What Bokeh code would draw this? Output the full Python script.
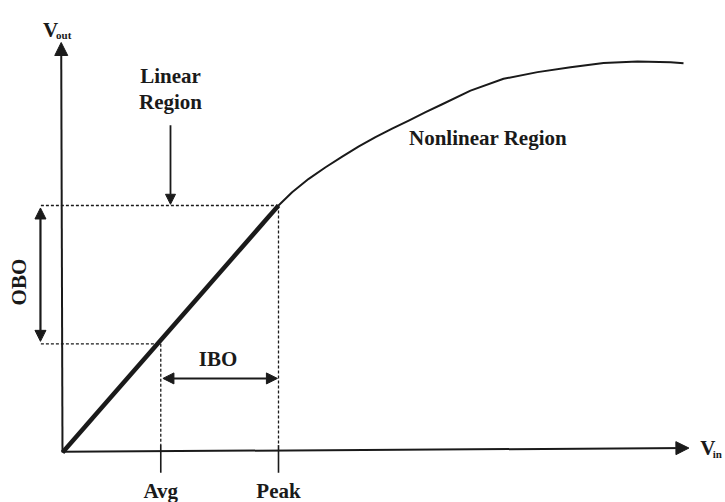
from bokeh.plotting import figure
from bokeh.models import Range1d, Arrow, NormalHead
from bokeh.core.properties import value
from bokeh.embed import file_html
from bokeh.resources import INLINE

# ---- data (Vin, Vout in normalised units; peak = 1) ----
linear_vin = [0.0, 1.0]
linear_vout = [0.0, 1.0]
curve_vin = [1.0, 1.063, 1.140, 1.218, 1.295, 1.372, 1.449, 1.526, 1.603, 1.681, 1.758,
             1.889, 2.042, 2.199, 2.352, 2.505, 2.662, 2.815, 2.875]
curve_vout = [1.0, 1.054, 1.108, 1.155, 1.198, 1.239, 1.277, 1.311, 1.344, 1.378, 1.410,
              1.465, 1.513, 1.540, 1.560, 1.577, 1.583, 1.580, 1.576]
avg_in = 0.455
avg_out = 0.44
peak_in = 1.0
peak_out = 1.0
labels = ["Linear", "Region", "Nonlinear Region", "IBO", "OBO", "Avg", "Peak"]

FONT = value("Liberation Serif")
INK = "#1a1a1a"

p = figure(width=725, height=502, output_backend="svg", toolbar_location=None,
           x_range=Range1d(-0.287, 3.0694), y_range=Range1d(-0.2024, 1.830),
           min_border=0)
p.xaxis.visible = False
p.yaxis.visible = False
p.grid.visible = False
p.outline_line_color = None
p.background_fill_color = "white"

# axes with arrows
p.add_layout(Arrow(x_start=0, y_start=0, x_end=-0.006, y_end=1.66, line_width=2, line_color=INK,
                   end=NormalHead(size=13, line_color=INK, fill_color=INK)))
p.add_layout(Arrow(x_start=0, y_start=0.003, x_end=2.90, y_end=0.018, line_width=2, line_color=INK,
                   end=NormalHead(size=13, line_color=INK, fill_color=INK)))

# dashed guides
dash = "3 2"
p.line([-0.10, peak_in], [peak_out, peak_out], line_dash=dash, line_width=1.3, line_color=INK)
p.line([-0.10, avg_in], [avg_out, avg_out], line_dash=dash, line_width=1.3, line_color=INK)
p.line([avg_in, avg_in], [avg_out, 0.03], line_dash=dash, line_width=1.3, line_color=INK)
p.line([peak_in, peak_in], [peak_out, 0.03], line_dash=dash, line_width=1.3, line_color=INK)
# solid ticks below axis
p.line([avg_in, avg_in], [0.03, -0.082], line_width=1.6, line_color=INK)
p.line([peak_in, peak_in], [0.03, -0.082], line_width=1.6, line_color=INK)

# transfer curve
p.line(linear_vin, linear_vout, line_width=4.5, line_color=INK)
p.line(curve_vin, curve_vout, line_width=2, line_color=INK, line_join="round")

# OBO double arrow
p.add_layout(Arrow(x_start=-0.102, y_start=avg_out + 0.01, x_end=-0.102, y_end=peak_out - 0.01,
                   line_width=2.2, line_color=INK,
                   start=NormalHead(size=11, line_color=INK, fill_color=INK),
                   end=NormalHead(size=11, line_color=INK, fill_color=INK)))
# IBO double arrow
p.add_layout(Arrow(x_start=avg_in + 0.01, y_start=0.30, x_end=peak_in - 0.005, y_end=0.30,
                   line_width=2, line_color=INK,
                   start=NormalHead(size=11, line_color=INK, fill_color=INK),
                   end=NormalHead(size=11, line_color=INK, fill_color=INK)))
# Linear region pointer
p.add_layout(Arrow(x_start=0.5, y_start=1.325, x_end=0.5, y_end=peak_out + 0.005,
                   line_width=1.8, line_color=INK,
                   end=NormalHead(size=10, line_color=INK, fill_color=INK)))

common = dict(text_font=FONT, text_font_style="bold", text_color=INK)
p.text(x=[0.5], y=[1.523], text=[labels[0]], text_align="center", text_baseline="middle",
       text_font_size="21px", **common)
p.text(x=[0.5], y=[1.421], text=[labels[1]], text_align="center", text_baseline="middle",
       text_font_size="21px", **common)
p.text(x=[1.604], y=[1.275], text=[labels[2]], text_align="left", text_baseline="middle",
       text_font_size="21px", **common)
p.text(x=[0.72], y=[0.38], text=[labels[3]], text_align="center", text_baseline="middle",
       text_font_size="21px", **common)
p.text(x=[-0.203], y=[0.69], text=[labels[4]], text_align="center", text_baseline="middle",
       angle=1.5708, text_font_size="21px", **common)
p.text(x=[avg_in], y=[-0.155], text=[labels[5]], text_align="center", text_baseline="middle",
       text_font_size="21px", **common)
p.text(x=[peak_in], y=[-0.155], text=[labels[6]], text_align="center", text_baseline="middle",
       text_font_size="21px", **common)

# axis labels with subscripts
p.text(x=[-0.09], y=[1.712], text=["V"], text_align="left", text_baseline="middle",
       text_font_size="21px", **common)
p.text(x=[-0.03], y=[1.69], text=["out"], text_align="left", text_baseline="middle",
       text_font_size="11px", **common)
p.text(x=[2.953], y=[0.02], text=["V"], text_align="left", text_baseline="middle",
       text_font_size="21px", **common)
p.text(x=[3.01], y=[-0.005], text=["in"], text_align="left", text_baseline="middle",
       text_font_size="11px", **common)

open("out.html", "w").write(file_html(p, INLINE))
